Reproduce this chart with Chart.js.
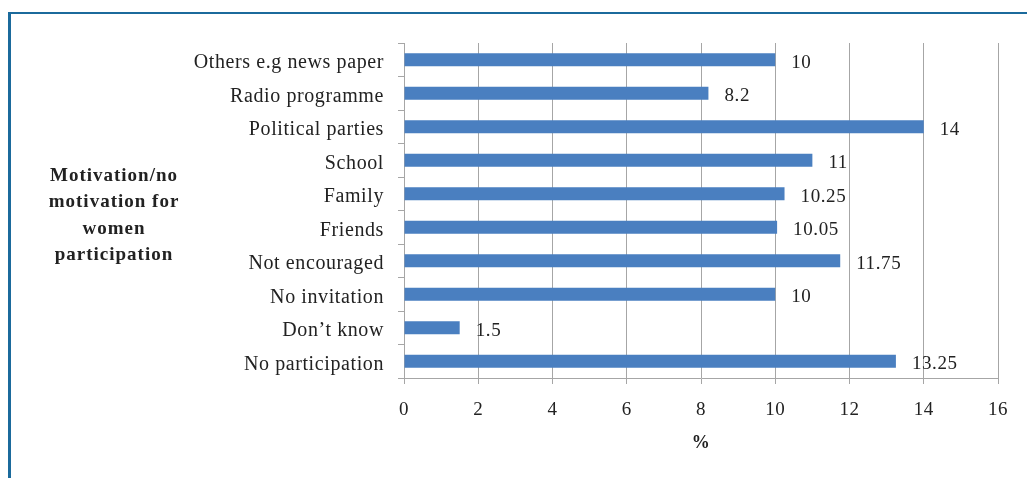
<!DOCTYPE html>
<html>
<head>
<meta charset="utf-8">
<script src="https://cdn.jsdelivr.net/npm/chart.js@4"></script>
<style>
    html, body { margin: 0; padding: 0; background: #fff; }
    #wrap { position: relative; width: 1027px; height: 478px; }
    #frame {
        position: absolute; left: 8px; top: 12px; right: 0; bottom: 0;
        border-top: 2px solid #1B6A9C; border-left: 3px solid #1B6A9C;
    }
    canvas { position: absolute; left: 0; top: 0; }
</style>
</head>
<body>
<div id="wrap">
    <div id="frame"></div>
    <canvas id="motivationChart" width="1027" height="478"></canvas>
</div>
<script>
const categories = [
    'Others e.g news paper',
    'Radio programme',
    'Political parties',
    'School',
    'Family',
    'Friends',
    'Not encouraged',
    'No invitation',
    'Don\u2019t know',
    'No participation'
];
const percentValues = [10, 8.2, 14, 11, 10.25, 10.05, 11.75, 10, 1.5, 13.25];
const valueLabels = ['10', '8.2', '14', '11', '10.25', '10.05', '11.75', '10', '1.5', '13.25'];
const yTitleLines = ['Motivation/no', 'motivation for', 'women', 'participation'];
const xTitle = '%';

const serif = '"Liberation Serif", "DejaVu Serif", serif';
const gridGray = '#A6A6A6';
const textColor = '#222';

// the original font runs a bit wider than Times, so spread letters a little
const letterSpacingPlugin = {
    id: 'letterSpacing',
    beforeDraw(chart) { chart.ctx.letterSpacing = '0.6px'; },
    afterDraw(chart) { chart.ctx.letterSpacing = '0px'; }
};

// value at the end of each bar
const barValuePlugin = {
    id: 'barValues',
    afterDatasetsDraw(chart) {
        const ctx = chart.ctx;
        const meta = chart.getDatasetMeta(0);
        ctx.save();
        ctx.font = '19px ' + serif;
        ctx.fillStyle = textColor;
        ctx.textAlign = 'left';
        ctx.textBaseline = 'middle';
        meta.data.forEach((bar, i) => {
            ctx.fillText(valueLabels[i], bar.x + 16, bar.y + 3);
        });
        ctx.restore();
    }
};

// horizontal multi-line title for the y axis
const yTitlePlugin = {
    id: 'yTitle',
    afterDraw(chart) {
        const ctx = chart.ctx;
        const area = chart.chartArea;
        const lineGap = 26.5;
        const midY = (area.top + area.bottom) / 2 + 5;
        const startY = midY - lineGap * (yTitleLines.length - 1) / 2;
        ctx.save();
        ctx.font = 'bold 19px ' + serif;
        ctx.letterSpacing = '1px';
        ctx.fillStyle = textColor;
        ctx.textAlign = 'center';
        ctx.textBaseline = 'middle';
        yTitleLines.forEach((line, i) => {
            ctx.fillText(line, 114, startY + i * lineGap);
        });
        ctx.restore();
    }
};

const ctx = document.getElementById('motivationChart').getContext('2d');
new Chart(ctx, {
    type: 'bar',
    data: {
        labels: categories,
        datasets: [{
            data: percentValues,
            backgroundColor: '#4A7FC0',
            borderWidth: 0,
            barPercentage: 0.78,
            categoryPercentage: 0.5
        }]
    },
    options: {
        indexAxis: 'y',
        responsive: false,
        animation: false,
        layout: { padding: { top: 43, right: 29, left: 0, bottom: 0 } },
        plugins: {
            legend: { display: false },
            tooltip: { enabled: false }
        },
        scales: {
            x: {
                min: 0,
                max: 16,
                ticks: {
                    stepSize: 2,
                    color: textColor,
                    padding: 15,
                    font: { family: serif, size: 19 }
                },
                grid: {
                    color: gridGray,
                    lineWidth: 1,
                    tickLength: 6
                },
                border: { color: gridGray },
                title: {
                    display: true,
                    text: xTitle,
                    color: textColor,
                    font: { family: serif, size: 18, weight: 'bold' },
                    padding: { top: 4, bottom: 24 }
                },
                afterFit(scale) { scale.height = 100; }
            },
            y: {
                ticks: {
                    color: textColor,
                    padding: 14,
                    labelOffset: 3,
                    font: { family: serif, size: 20 }
                },
                grid: {
                    drawOnChartArea: false,
                    color: gridGray,
                    tickLength: 6,
                    offset: true
                },
                border: { color: gridGray },
                afterFit(scale) { scale.width = 404; }
            }
        }
    },
    plugins: [letterSpacingPlugin, barValuePlugin, yTitlePlugin]
});
</script>
</body>
</html>
